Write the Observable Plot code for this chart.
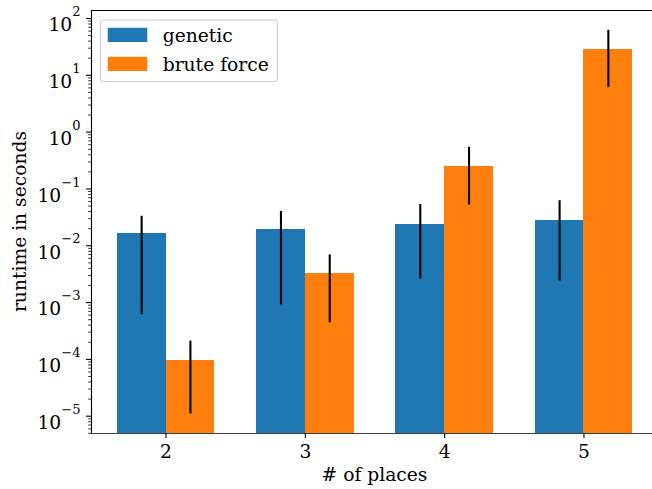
<!DOCTYPE html>
<html>
<head>
<meta charset="utf-8">
<script src="https://cdn.jsdelivr.net/npm/d3@7"></script>
<script src="https://cdn.jsdelivr.net/npm/@observablehq/plot@0.6"></script>
<style>
  html, body { margin: 0; padding: 0; background: #fff; }
  #chart svg, #chart svg text { font-family: "DejaVu Serif", "Liberation Serif", serif !important; }
</style>
</head>
<body>
<div id="chart"></div>
<script>
const places = [2, 3, 4, 5];
const seriesNames = ["genetic", "brute force"];
const seriesColors = ["#1f77b4", "#ff7f0e"];
const genetic = [0.0164, 0.0193, 0.0236, 0.0278];
const geneticLow = [6.1e-4, 9.0e-4, 2.6e-3, 2.4e-3];
const geneticHigh = [0.033, 0.040, 0.053, 0.062];
const bruteForce = [9.5e-5, 3.2e-3, 0.248, 28.5];
const bruteLow = [1.1e-5, 4.4e-4, 0.052, 6.1];
const bruteHigh = [2.1e-4, 6.9e-3, 0.54, 62];
const majorTicks = [1e-5, 1e-4, 1e-3, 1e-2, 1e-1, 1, 10, 100];
const xLabel = "# of places";
const yLabel = "runtime in seconds";

const yLo = 4.96e-6, yHi = 138.3;
const xLo = 1.465, xHi = 5.535;
const barW = 0.35;
const FS = 18.7;

const rows = [];
places.forEach((p, i) => {
  rows.push({place: p, series: seriesNames[0], offset: -1, value: genetic[i], low: geneticLow[i], high: geneticHigh[i]});
  rows.push({place: p, series: seriesNames[1], offset: 0, value: bruteForce[i], low: bruteLow[i], high: bruteHigh[i]});
});

const minorTicks = d3.scaleLog().domain([yLo, yHi]).ticks().filter(t => !majorTicks.some(m => Math.abs(m - t) / m < 1e-9));

const chart = Plot.plot({
  width: 652,
  height: 489,
  marginLeft: 91,
  marginRight: 0,
  marginTop: 10,
  marginBottom: 56,
  style: {fontFamily: "'DejaVu Serif', 'Liberation Serif', serif", fontSize: FS + "px", background: "#fff", color: "#000"},
  x: {type: "linear", domain: [xLo, xHi], range: [91, 658]},
  y: {type: "log", domain: [yLo, yHi]},
  color: {domain: seriesNames, range: seriesColors},
  marks: [
    Plot.rectY(rows, {
      x1: d => d.place + d.offset * barW,
      x2: d => d.place + (d.offset + 1) * barW,
      y1: yLo,
      y2: "value",
      fill: "series",
      shapeRendering: "crispEdges"
    }),
    Plot.ruleX(rows, {
      x: d => d.place + (d.offset + 0.5) * barW,
      y1: "low",
      y2: "high",
      stroke: "#000",
      strokeWidth: 2.1
    }),
    Plot.axisY({ticks: minorTicks, tickSize: 2.8, strokeWidth: 0.8, tickFormat: () => "", label: null,
      ariaLabel: "minor y-axis"}),
    Plot.axisY({ticks: majorTicks, tickSize: 5, tickPadding: 6, strokeWidth: 1.1,
      tickFormat: d => String(Math.round(Math.log10(d))), label: null}),
    Plot.axisX({ticks: places, tickSize: 5, tickPadding: 6, strokeWidth: 1.1,
      tickFormat: d => String(d), label: null}),
    Plot.ruleY([yLo], {stroke: "#000", strokeWidth: 1.1, strokeOpacity: 0.75}),
    Plot.ruleY([yHi], {stroke: "#000", strokeWidth: 1.1}),
    Plot.ruleX([xLo], {stroke: "#000", strokeWidth: 1.1})
  ]
});

document.getElementById("chart").appendChild(chart);

const svg = d3.select(chart);
svg.attr("font-family", "DejaVu Serif");

// remove empty labels of minor ticks
svg.selectAll("text").each(function() {
  if (this.textContent === "" && !this.hasChildNodes()) this.remove();
});

// y tick labels as 10^n with real superscripts
svg.selectAll('g[aria-label="y-axis tick label"] text').each(function() {
  const t = d3.select(this);
  const raw = t.text();
  if (!raw) return;
  const e = raw.replace("-", "\u2212");
  t.text(null);
  t.attr("dy", (0.37 * FS) + "px");
  t.append("tspan").text("10");
  t.append("tspan").attr("font-size", (0.7 * FS) + "px").attr("dy", (-0.82 * FS) + "px").text(e);
});

// axis labels
svg.append("text")
  .attr("x", (91 + 658) / 2).attr("y", 481)
  .attr("text-anchor", "middle")
  .attr("fill", "#000")
  .text(xLabel);

svg.append("text")
  .attr("transform", "translate(25.5,221.5) rotate(-90)")
  .attr("text-anchor", "middle")
  .attr("fill", "#000")
  .text(yLabel);

// legend
const lg = svg.append("g").attr("aria-label", "legend");
lg.append("rect")
  .attr("x", 100.5).attr("y", 20).attr("width", 177).attr("height", 61.5)
  .attr("rx", 3).attr("ry", 3)
  .attr("fill", "#fff").attr("fill-opacity", 0.8)
  .attr("stroke", "#cccccc").attr("stroke-width", 1.1);
seriesNames.forEach((name, i) => {
  const top = 27.8 + i * 29;
  lg.append("rect")
    .attr("x", 107.7).attr("y", top).attr("width", 39.6).attr("height", 14.2)
    .attr("fill", seriesColors[i]);
  lg.append("text")
    .attr("x", 162.7).attr("y", top + 14.2)
    .attr("text-anchor", "start")
    .attr("fill", "#000")
    .text(name);
});
</script>
</body>
</html>
